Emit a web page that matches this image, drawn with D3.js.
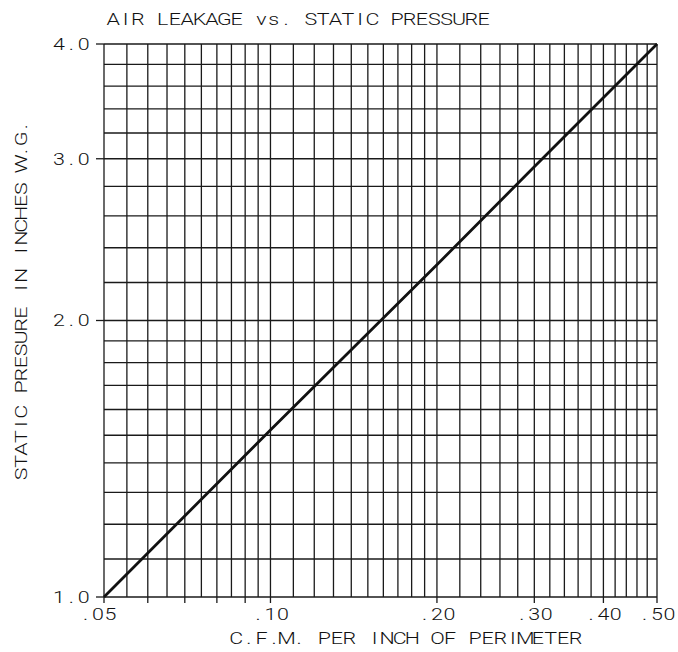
<!DOCTYPE html>
<html>
<head>
<meta charset="utf-8">
<script src="https://cdn.jsdelivr.net/npm/d3@7"></script>
<style>
  html, body { margin: 0; padding: 0; background: #fff; }
  svg { display: block; }
  text { font-family: Roboto, "DejaVu Sans", sans-serif; font-weight: 300; fill: #111; }
</style>
</head>
<body>
<svg id="chart" width="678" height="652"></svg>
<script>
// Air leakage (C.F.M. per inch of perimeter) against static pressure (in. W.G.)
const cfm      = [0.05, 0.10, 0.20, 0.30, 0.50];
const pressure = [1.00, 1.52, 2.30, 2.94, 4.00];

// Axis ranges, ticks and labels
const xDomain = [0.05, 0.50];
const yDomain = [1.0, 4.0];
const xMajorTicks = [0.05, 0.06, 0.07, 0.08, 0.09, 0.10, 0.20, 0.30, 0.40, 0.50];
const xTickLabels = [".05", ".10", ".20", ".30", ".40", ".50"];
const xTickLabelValues = [0.05, 0.10, 0.20, 0.30, 0.40, 0.50];
const yMajorTicks = [1.0, 2.0, 3.0, 4.0];
const yTickLabels = ["1.0", "2.0", "3.0", "4.0"];

// Grid spacing per band: [from, to, step]
const xGridBands = [[0.05, 0.10, 0.005], [0.10, 0.20, 0.01], [0.20, 0.50, 0.02]];
const yGridBands = [[1.0, 2.0, 0.1], [2.0, 4.0, 0.2]];

const titleText = "AIR LEAKAGE vs. STATIC PRESSURE";
const xTitle = "C.F.M. PER INCH OF PERIMETER";
const yTitle = "STATIC PRESURE IN INCHES W.G.";

const margin = { left: 104, right: 21, top: 44, bottom: 55 };
const W = 678, H = 652;
const FONT = 16.5;
const STRETCH = 1.3;   // wide plotter-style letters

const svg = d3.select("#chart");
const x = d3.scaleLog().domain(xDomain).range([margin.left, W - margin.right]);
const y = d3.scaleLog().domain(yDomain).range([H - margin.bottom, margin.top]);

function bandValues(bands) {
  const vals = [];
  bands.forEach(([a, b, s]) => {
    const n = Math.round((b - a) / s);
    for (let i = 0; i <= n; i++) vals.push(+(a + i * s).toFixed(4));
  });
  return Array.from(new Set(vals));
}
const xGrid = bandValues(xGridBands);
const yGrid = bandValues(yGridBands);

// Plotter-style lettering: every character sits centred in a fixed-width cell
function cellText(parent, str, left, baseline, cell) {
  const xs = Array.from(str, (c, i) => ((left + cell / 2 + i * cell) / STRETCH).toFixed(2)).join(" ");
  return parent.append("text")
    .attr("transform", `scale(${STRETCH},1)`)
    .attr("x", xs)
    .attr("y", baseline)
    .attr("text-anchor", "middle")
    .attr("font-size", FONT)
    .text(str);
}

const gridColor = "#1a1a1a";
const x0 = x.range()[0], x1 = x.range()[1];
const y0 = y.range()[0], y1 = y.range()[1];

// Grid
const g = svg.append("g").attr("stroke", gridColor).attr("stroke-width", 1.3);
g.selectAll("line.vx").data(xGrid).join("line")
  .attr("x1", d => x(d)).attr("x2", d => x(d))
  .attr("y1", y1).attr("y2", y0);
g.selectAll("line.hy").data(yGrid).join("line")
  .attr("x1", x0).attr("x2", x1)
  .attr("y1", d => y(d)).attr("y2", d => y(d));

// Tick marks outside the plot
g.selectAll("line.xt").data(xMajorTicks).join("line")
  .attr("x1", d => x(d)).attr("x2", d => x(d))
  .attr("y1", y0).attr("y2", y0 + 6);
g.selectAll("line.yt").data(yMajorTicks).join("line")
  .attr("x1", x0 - 8).attr("x2", x0)
  .attr("y1", d => y(d)).attr("y2", d => y(d));

// Leakage line
const line = d3.line().x((d, i) => x(cfm[i])).y(d => y(d));
svg.append("path")
  .attr("d", line(pressure))
  .attr("fill", "none")
  .attr("stroke", "#111")
  .attr("stroke-width", 2.8);

// Tick labels
const CELL = 12.4;
xTickLabelValues.forEach((v, i) => {
  const lbl = xTickLabels[i];
  const w = lbl.length * CELL;
  cellText(svg, lbl, x(v) - w / 2 - (i === 0 ? 6 : 0), y0 + 23, CELL);
});
yMajorTicks.forEach((v, i) => {
  const lbl = yTickLabels[i];
  cellText(svg, lbl, x0 - 14 - lbl.length * CELL, y(v) + 6, CELL);
});

// Titles
cellText(svg, titleText, 107, 25, 12.35);
cellText(svg, xTitle, 230, 644, 12.57);
const yt = svg.append("g").attr("transform", "translate(27,480) rotate(-90)");
cellText(yt, yTitle, 0, 0, 12.4);
</script>
</body>
</html>
